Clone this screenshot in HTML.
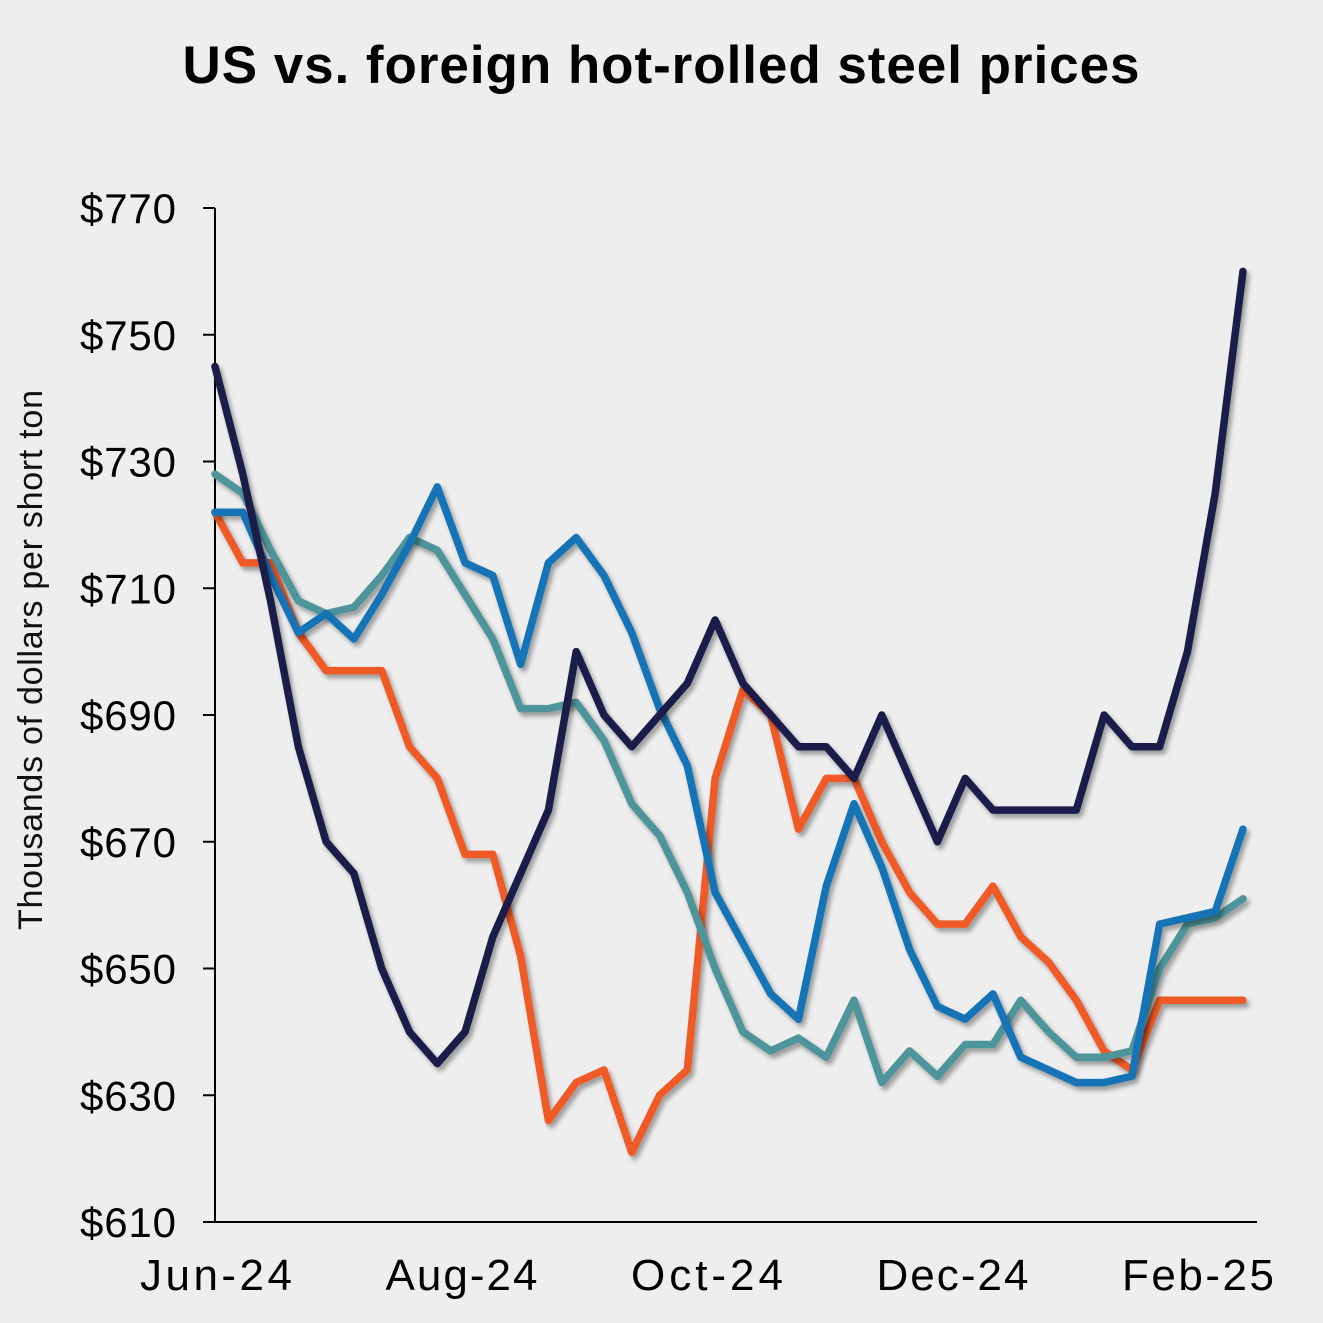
<!DOCTYPE html>
<html><head><meta charset="utf-8"><style>
html,body{margin:0;padding:0;background:#eeeeee;}
svg{display:block;font-family:"Liberation Sans",sans-serif;}
</style></head><body>
<svg id="chart" width="1323" height="1323" viewBox="0 0 1323 1323">
<defs><filter id="sh" x="-5%" y="-5%" width="110%" height="110%"><feDropShadow dx="3" dy="4" stdDeviation="2.5" flood-color="#000" flood-opacity="0.35"/></filter></defs>
<rect width="1323" height="1323" fill="#eeeeee"/>
<text x="661" y="83" text-anchor="middle" font-size="53" font-weight="bold" fill="#000" textLength="957">US vs. foreign hot-rolled steel prices</text>
<text transform="translate(42,660) rotate(-90)" text-anchor="middle" font-size="34" fill="#111" textLength="540">Thousands of dollars per short ton</text>
<g id="axes"></g>
<g id="series"></g>
</svg>
<script>
const yTicks=[610,630,650,670,690,710,730,750,770];
const xLabels=["Jun-24","Aug-24","Oct-24","Dec-24","Feb-25"];
const navy=[745,728,708,685,670,665,650,640,635,640,655,665,675,700,690,685,690,695,705,695,690,685,685,680,690,680,670,680,675,675,675,675,690,685,685,700,725,760];
const blue=[722,722,712,703,706,702,709,717,726,714,712,698,714,718,712,703,691,682,662,654,646,642,663,676,666,653,644,642,646,636,634,632,632,633,657,658,659,672];
const orange=[722,714,714,703,697,697,697,685,680,668,668,652,626,632,634,621,630,634,680,694,690,672,680,680,670,662,657,657,663,655,651,645,637,634,645,645,645,645];
const teal=[728,725,716,708,706,707,712,718,716,709,702,691,691,692,686,676,671,662,650,640,637,639,636,645,632,637,633,638,638,645,640,636,636,637,650,657,658,661];
const NS="http://www.w3.org/2000/svg";
const x0=215,x1=1257,yTop=208,yBot=1222;
function yS(v){return yBot-(v-610)/(770-610)*(yBot-yTop);}
function xS(i){return 215+i*(1243-215)/37;}
function mk(t,a,p){const e=document.createElementNS(NS,t);for(const k in a)e.setAttribute(k,a[k]);p.appendChild(e);return e;}
const ax=document.getElementById('axes');
const yl=mk('line',{x1:x0,y1:yTop,x2:x0,y2:yBot,stroke:'#000','stroke-width':2},ax);


const xl=mk('line',{x1:x0,y1:yBot,x2:x1,y2:yBot,stroke:'#000','stroke-width':2},ax);


yTicks.forEach(v=>{
  const tk=mk('line',{x1:203,y1:yS(v),x2:x0,y2:yS(v),stroke:'#000','stroke-width':2},ax);
  
  
  const t=mk('text',{x:176,y:yS(v)+15,'text-anchor':'end','font-size':42,fill:'#000',textLength:96},ax);
  t.textContent='$'+v;
  
  
});
xLabels.forEach((s,i)=>{
  const t=mk('text',{x:216+i*245.5,y:1290,'text-anchor':'middle','font-size':44,fill:'#000',textLength:152},ax);
  t.textContent=s;
  
  
});
const sg=document.getElementById('series');
[[orange,'#f05a28','orange-series-line'],[teal,'#4e959a','teal-series-line'],[blue,'#1273b5','blue-series-line'],[navy,'#1b1f4b','navy-series-line']].forEach(([d,c,n])=>{
  const p=mk('polyline',{points:d.map((v,i)=>xS(i)+','+yS(v)).join(' '),fill:'none',stroke:c,'stroke-width':7.5,'stroke-linejoin':'round','stroke-linecap':'round',filter:'url(#sh)'},sg);
  
  
});
</script>
</body></html>
